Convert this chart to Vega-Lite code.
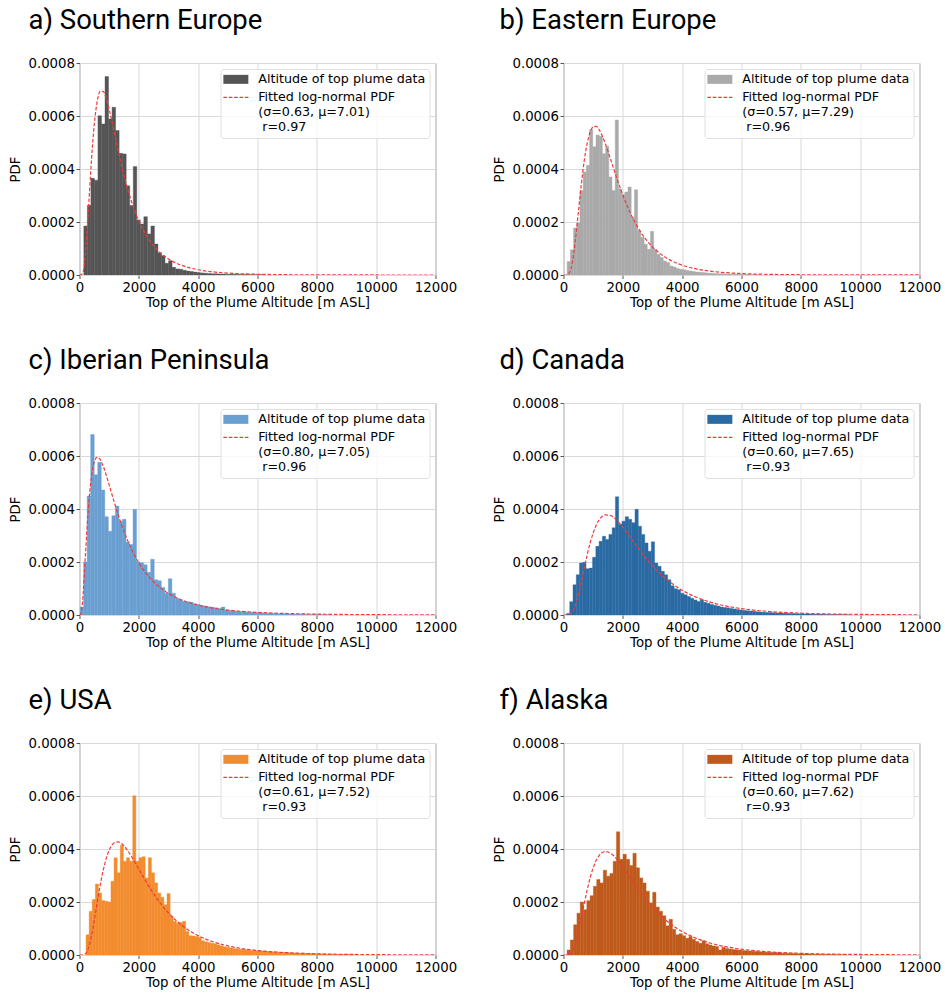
{
"$schema": "https://vega.github.io/schema/vega-lite/v6.json",
"background": "white",
"padding": {"left": 7.5, "top": 6, "right": 2, "bottom": 4},
"columns": 2,
"spacing": {"row": 36, "column": 34},
"resolve": {"scale": {"color": "independent", "x": "independent", "y": "independent"}, "legend": {"color": "independent"}},
"datasets": {
"hist": [
{"p":"a","a":146,"b":265,"v":0.000185},{"p":"a","a":265,"b":384,"v":0.000263},{"p":"a","a":384,"b":503,"v":0.000365},{"p":"a","a":503,"b":622,"v":0.000358},{"p":"a","a":622,"b":741,"v":0.000601},{"p":"a","a":741,"b":860,"v":0.00057},{"p":"a","a":860,"b":979,"v":0.000749},{"p":"a","a":979,"b":1098,"v":0.000589},{"p":"a","a":1098,"b":1217,"v":0.000633},{"p":"a","a":1217,"b":1336,"v":0.000545},{"p":"a","a":1336,"b":1455,"v":0.000459},{"p":"a","a":1455,"b":1574,"v":0.000457},{"p":"a","a":1574,"b":1693,"v":0.000337},{"p":"a","a":1693,"b":1812,"v":0.000262},{"p":"a","a":1812,"b":1931,"v":0.000409},{"p":"a","a":1931,"b":2050,"v":0.000208},{"p":"a","a":2050,"b":2169,"v":0.000192},{"p":"a","a":2169,"b":2288,"v":0.00022},{"p":"a","a":2288,"b":2407,"v":0.000155},{"p":"a","a":2407,"b":2526,"v":0.000185},{"p":"a","a":2526,"b":2645,"v":0.000117},{"p":"a","a":2645,"b":2764,"v":0.000084},{"p":"a","a":2764,"b":2883,"v":0.000073},{"p":"a","a":2883,"b":3002,"v":0.000044},{"p":"a","a":3002,"b":3121,"v":0.000054},{"p":"a","a":3121,"b":3240,"v":0.000029},{"p":"a","a":3240,"b":3359,"v":0.000023},{"p":"a","a":3359,"b":3478,"v":0.000022},{"p":"a","a":3478,"b":3597,"v":0.000018},{"p":"a","a":3597,"b":3716,"v":0.000015},{"p":"a","a":3716,"b":3835,"v":0.000013},{"p":"a","a":3835,"b":3954,"v":0.000011},{"p":"a","a":3954,"b":4073,"v":0.000009},{"p":"a","a":4073,"b":4192,"v":0.000008},{"p":"a","a":4192,"b":4311,"v":0.000007},{"p":"a","a":4311,"b":4430,"v":0.000006},{"p":"a","a":4430,"b":4549,"v":0.000005},{"p":"a","a":4549,"b":4668,"v":0.0000045},{"p":"a","a":4668,"b":4787,"v":0.000004},{"p":"a","a":4787,"b":4906,"v":0.0000035},{"p":"a","a":4906,"b":5025,"v":0.000003},{"p":"a","a":5025,"b":5144,"v":0.0000028},{"p":"a","a":5144,"b":5263,"v":0.0000025},{"p":"a","a":5263,"b":5382,"v":0.0000022},{"p":"a","a":5382,"b":5501,"v":0.000002},{"p":"a","a":5501,"b":5620,"v":0.0000018},{"p":"a","a":5620,"b":5739,"v":0.0000016},{"p":"a","a":5739,"b":5858,"v":0.0000014},{"p":"a","a":5858,"b":5977,"v":0.0000012},{"p":"a","a":5977,"b":6096,"v":0.0000011},{"p":"a","a":6096,"b":6215,"v":0.000001},
{"p":"b","a":123,"b":231,"v":0.000051},{"p":"b","a":231,"b":339,"v":0.000095},{"p":"b","a":339,"b":447,"v":0.000177},{"p":"b","a":447,"b":555,"v":0.000196},{"p":"b","a":555,"b":663,"v":0.000319},{"p":"b","a":663,"b":771,"v":0.000389},{"p":"b","a":771,"b":879,"v":0.000414},{"p":"b","a":879,"b":987,"v":0.000549},{"p":"b","a":987,"b":1095,"v":0.000484},{"p":"b","a":1095,"b":1203,"v":0.000528},{"p":"b","a":1203,"b":1311,"v":0.000524},{"p":"b","a":1311,"b":1419,"v":0.000458},{"p":"b","a":1419,"b":1527,"v":0.000486},{"p":"b","a":1527,"b":1635,"v":0.00037},{"p":"b","a":1635,"b":1743,"v":0.000319},{"p":"b","a":1743,"b":1851,"v":0.000585},{"p":"b","a":1851,"b":1959,"v":0.000325},{"p":"b","a":1959,"b":2067,"v":0.000304},{"p":"b","a":2067,"b":2175,"v":0.000313},{"p":"b","a":2175,"b":2283,"v":0.000332},{"p":"b","a":2283,"b":2391,"v":0.000218},{"p":"b","a":2391,"b":2499,"v":0.000322},{"p":"b","a":2499,"b":2607,"v":0.000167},{"p":"b","a":2607,"b":2715,"v":0.000142},{"p":"b","a":2715,"b":2823,"v":0.000116},{"p":"b","a":2823,"b":2931,"v":0.000097},{"p":"b","a":2931,"b":3039,"v":0.000165},{"p":"b","a":3039,"b":3147,"v":0.000097},{"p":"b","a":3147,"b":3255,"v":0.000078},{"p":"b","a":3255,"b":3363,"v":0.000066},{"p":"b","a":3363,"b":3471,"v":0.000053},{"p":"b","a":3471,"b":3579,"v":0.000047},{"p":"b","a":3579,"b":3687,"v":0.000034},{"p":"b","a":3687,"b":3795,"v":0.00003},{"p":"b","a":3795,"b":3903,"v":0.000025},{"p":"b","a":3903,"b":4011,"v":0.000022},{"p":"b","a":4011,"b":4119,"v":0.00002},{"p":"b","a":4119,"b":4227,"v":0.000017},{"p":"b","a":4227,"b":4335,"v":0.000015},{"p":"b","a":4335,"b":4443,"v":0.000013},{"p":"b","a":4443,"b":4551,"v":0.000011},{"p":"b","a":4551,"b":4659,"v":0.00001},{"p":"b","a":4659,"b":4767,"v":0.000009},{"p":"b","a":4767,"b":4875,"v":0.000008},{"p":"b","a":4875,"b":4983,"v":0.000007},{"p":"b","a":4983,"b":5091,"v":0.000006},{"p":"b","a":5091,"b":5199,"v":0.0000055},{"p":"b","a":5199,"b":5307,"v":0.000005},{"p":"b","a":5307,"b":5415,"v":0.0000045},{"p":"b","a":5415,"b":5523,"v":0.000004},{"p":"b","a":5523,"b":5631,"v":0.0000035},{"p":"b","a":5631,"b":5739,"v":0.000003},{"p":"b","a":5739,"b":5847,"v":0.0000027},{"p":"b","a":5847,"b":5955,"v":0.0000024},{"p":"b","a":5955,"b":6063,"v":0.0000021},{"p":"b","a":6063,"b":6171,"v":0.0000018},{"p":"b","a":6171,"b":6279,"v":0.0000015},{"p":"b","a":6279,"b":6387,"v":0.0000013},{"p":"b","a":6387,"b":6495,"v":0.0000011},{"p":"b","a":6495,"b":6603,"v":0.000001},
{"p":"c","a":20,"b":139,"v":0.00003},{"p":"c","a":139,"b":258,"v":0.0002},{"p":"c","a":258,"b":377,"v":0.000449},{"p":"c","a":377,"b":496,"v":0.000681},{"p":"c","a":496,"b":615,"v":0.000529},{"p":"c","a":615,"b":734,"v":0.000576},{"p":"c","a":734,"b":853,"v":0.000472},{"p":"c","a":853,"b":972,"v":0.000371},{"p":"c","a":972,"b":1091,"v":0.000316},{"p":"c","a":1091,"b":1210,"v":0.000375},{"p":"c","a":1210,"b":1329,"v":0.000411},{"p":"c","a":1329,"b":1448,"v":0.000354},{"p":"c","a":1448,"b":1567,"v":0.000361},{"p":"c","a":1567,"b":1686,"v":0.000275},{"p":"c","a":1686,"b":1805,"v":0.000266},{"p":"c","a":1805,"b":1924,"v":0.000399},{"p":"c","a":1924,"b":2043,"v":0.0002},{"p":"c","a":2043,"b":2162,"v":0.000197},{"p":"c","a":2162,"b":2281,"v":0.00019},{"p":"c","a":2281,"b":2400,"v":0.000161},{"p":"c","a":2400,"b":2519,"v":0.00021},{"p":"c","a":2519,"b":2638,"v":0.000133},{"p":"c","a":2638,"b":2757,"v":0.000129},{"p":"c","a":2757,"b":2876,"v":0.000104},{"p":"c","a":2876,"b":2995,"v":0.000082},{"p":"c","a":2995,"b":3114,"v":0.000137},{"p":"c","a":3114,"b":3233,"v":0.000082},{"p":"c","a":3233,"b":3352,"v":0.000063},{"p":"c","a":3352,"b":3471,"v":0.000057},{"p":"c","a":3471,"b":3590,"v":0.000052},{"p":"c","a":3590,"b":3709,"v":0.00005},{"p":"c","a":3709,"b":3828,"v":0.000048},{"p":"c","a":3828,"b":3947,"v":0.000042},{"p":"c","a":3947,"b":4066,"v":0.00004},{"p":"c","a":4066,"b":4185,"v":0.000036},{"p":"c","a":4185,"b":4304,"v":0.000034},{"p":"c","a":4304,"b":4423,"v":0.000031},{"p":"c","a":4423,"b":4542,"v":0.000029},{"p":"c","a":4542,"b":4661,"v":0.000027},{"p":"c","a":4661,"b":4780,"v":0.000025},{"p":"c","a":4780,"b":4899,"v":0.00003},{"p":"c","a":4899,"b":5018,"v":0.000019},{"p":"c","a":5018,"b":5137,"v":0.000017},{"p":"c","a":5137,"b":5256,"v":0.000015},{"p":"c","a":5256,"b":5375,"v":0.000014},{"p":"c","a":5375,"b":5494,"v":0.000013},{"p":"c","a":5494,"b":5613,"v":0.000012},{"p":"c","a":5613,"b":5732,"v":0.000011},{"p":"c","a":5732,"b":5851,"v":0.00001},{"p":"c","a":5851,"b":5970,"v":0.000009},{"p":"c","a":5970,"b":6089,"v":0.0000085},{"p":"c","a":6089,"b":6208,"v":0.000008},{"p":"c","a":6208,"b":6327,"v":0.000007},{"p":"c","a":6327,"b":6446,"v":0.0000065},{"p":"c","a":6446,"b":6565,"v":0.000006},{"p":"c","a":6565,"b":6684,"v":0.0000055},{"p":"c","a":6684,"b":6803,"v":0.000005},{"p":"c","a":6803,"b":6922,"v":0.0000045},{"p":"c","a":6922,"b":7041,"v":0.000004},{"p":"c","a":7041,"b":7160,"v":0.0000037},{"p":"c","a":7160,"b":7279,"v":0.0000034},{"p":"c","a":7279,"b":7398,"v":0.0000031},{"p":"c","a":7398,"b":7517,"v":0.0000028},{"p":"c","a":7517,"b":7636,"v":0.0000025},{"p":"c","a":7636,"b":7755,"v":0.0000022},{"p":"c","a":7755,"b":7874,"v":0.000002},{"p":"c","a":7874,"b":7993,"v":0.0000018},{"p":"c","a":7993,"b":8112,"v":0.0000016},{"p":"c","a":8112,"b":8231,"v":0.0000014},{"p":"c","a":8231,"b":8350,"v":0.0000012},{"p":"c","a":8350,"b":8469,"v":0.000001},
{"p":"d","a":100,"b":210,"v":0.000006},{"p":"d","a":210,"b":320,"v":0.00005},{"p":"d","a":320,"b":430,"v":0.000114},{"p":"d","a":430,"b":540,"v":0.000152},{"p":"d","a":540,"b":650,"v":0.000196},{"p":"d","a":650,"b":760,"v":0.000199},{"p":"d","a":760,"b":870,"v":0.000175},{"p":"d","a":870,"b":980,"v":0.000177},{"p":"d","a":980,"b":1090,"v":0.000218},{"p":"d","a":1090,"b":1200,"v":0.000259},{"p":"d","a":1200,"b":1310,"v":0.000278},{"p":"d","a":1310,"b":1420,"v":0.000297},{"p":"d","a":1420,"b":1530,"v":0.000285},{"p":"d","a":1530,"b":1640,"v":0.000304},{"p":"d","a":1640,"b":1750,"v":0.000329},{"p":"d","a":1750,"b":1860,"v":0.000446},{"p":"d","a":1860,"b":1970,"v":0.000342},{"p":"d","a":1970,"b":2080,"v":0.000354},{"p":"d","a":2080,"b":2190,"v":0.000371},{"p":"d","a":2190,"b":2300,"v":0.000361},{"p":"d","a":2300,"b":2410,"v":0.000348},{"p":"d","a":2410,"b":2520,"v":0.000399},{"p":"d","a":2520,"b":2630,"v":0.000335},{"p":"d","a":2630,"b":2740,"v":0.000304},{"p":"d","a":2740,"b":2850,"v":0.000272},{"p":"d","a":2850,"b":2960,"v":0.000241},{"p":"d","a":2960,"b":3070,"v":0.000276},{"p":"d","a":3070,"b":3180,"v":0.000196},{"p":"d","a":3180,"b":3290,"v":0.000184},{"p":"d","a":3290,"b":3400,"v":0.000165},{"p":"d","a":3400,"b":3510,"v":0.000152},{"p":"d","a":3510,"b":3620,"v":0.000133},{"p":"d","a":3620,"b":3730,"v":0.00011},{"p":"d","a":3730,"b":3840,"v":0.000099},{"p":"d","a":3840,"b":3950,"v":0.000095},{"p":"d","a":3950,"b":4060,"v":0.000082},{"p":"d","a":4060,"b":4170,"v":0.000076},{"p":"d","a":4170,"b":4280,"v":0.00007},{"p":"d","a":4280,"b":4390,"v":0.000063},{"p":"d","a":4390,"b":4500,"v":0.000057},{"p":"d","a":4500,"b":4610,"v":0.000051},{"p":"d","a":4610,"b":4720,"v":0.000058},{"p":"d","a":4720,"b":4830,"v":0.000048},{"p":"d","a":4830,"b":4940,"v":0.000044},{"p":"d","a":4940,"b":5050,"v":0.00004},{"p":"d","a":5050,"b":5160,"v":0.000037},{"p":"d","a":5160,"b":5270,"v":0.000034},{"p":"d","a":5270,"b":5380,"v":0.00003},{"p":"d","a":5380,"b":5490,"v":0.000028},{"p":"d","a":5490,"b":5600,"v":0.000027},{"p":"d","a":5600,"b":5710,"v":0.000025},{"p":"d","a":5710,"b":5820,"v":0.000023},{"p":"d","a":5820,"b":5930,"v":0.000021},{"p":"d","a":5930,"b":6040,"v":0.000019},{"p":"d","a":6040,"b":6150,"v":0.000017},{"p":"d","a":6150,"b":6260,"v":0.000016},{"p":"d","a":6260,"b":6370,"v":0.000015},{"p":"d","a":6370,"b":6480,"v":0.000014},{"p":"d","a":6480,"b":6590,"v":0.000012},{"p":"d","a":6590,"b":6700,"v":0.000011},{"p":"d","a":6700,"b":6810,"v":0.00001},{"p":"d","a":6810,"b":6920,"v":0.0000095},{"p":"d","a":6920,"b":7030,"v":0.000009},{"p":"d","a":7030,"b":7140,"v":0.0000085},{"p":"d","a":7140,"b":7250,"v":0.000008},{"p":"d","a":7250,"b":7360,"v":0.0000075},{"p":"d","a":7360,"b":7470,"v":0.000007},{"p":"d","a":7470,"b":7580,"v":0.0000065},{"p":"d","a":7580,"b":7690,"v":0.000006},{"p":"d","a":7690,"b":7800,"v":0.0000055},{"p":"d","a":7800,"b":7910,"v":0.000005},{"p":"d","a":7910,"b":8020,"v":0.0000046},{"p":"d","a":8020,"b":8130,"v":0.0000042},{"p":"d","a":8130,"b":8240,"v":0.0000038},{"p":"d","a":8240,"b":8350,"v":0.0000035},{"p":"d","a":8350,"b":8460,"v":0.0000032},{"p":"d","a":8460,"b":8570,"v":0.000003},{"p":"d","a":8570,"b":8680,"v":0.0000027},{"p":"d","a":8680,"b":8790,"v":0.0000025},{"p":"d","a":8790,"b":8900,"v":0.0000022},{"p":"d","a":8900,"b":9010,"v":0.000002},{"p":"d","a":9010,"b":9120,"v":0.0000018},{"p":"d","a":9120,"b":9230,"v":0.0000016},{"p":"d","a":9230,"b":9340,"v":0.0000014},{"p":"d","a":9340,"b":9450,"v":0.0000012},{"p":"d","a":9450,"b":9560,"v":0.0000011},{"p":"d","a":9560,"b":9670,"v":0.000001},
{"p":"e","a":220,"b":325,"v":0.000076},{"p":"e","a":325,"b":430,"v":0.000165},{"p":"e","a":430,"b":535,"v":0.000209},{"p":"e","a":535,"b":640,"v":0.000268},{"p":"e","a":640,"b":745,"v":0.000234},{"p":"e","a":745,"b":850,"v":0.000206},{"p":"e","a":850,"b":955,"v":0.000203},{"p":"e","a":955,"b":1060,"v":0.0002},{"p":"e","a":1060,"b":1165,"v":0.000278},{"p":"e","a":1165,"b":1270,"v":0.000367},{"p":"e","a":1270,"b":1375,"v":0.00031},{"p":"e","a":1375,"b":1480,"v":0.000414},{"p":"e","a":1480,"b":1585,"v":0.000354},{"p":"e","a":1585,"b":1690,"v":0.000367},{"p":"e","a":1690,"b":1795,"v":0.000354},{"p":"e","a":1795,"b":1900,"v":0.000601},{"p":"e","a":1900,"b":2005,"v":0.000354},{"p":"e","a":2005,"b":2110,"v":0.000367},{"p":"e","a":2110,"b":2215,"v":0.000371},{"p":"e","a":2215,"b":2320,"v":0.000291},{"p":"e","a":2320,"b":2425,"v":0.000367},{"p":"e","a":2425,"b":2530,"v":0.00031},{"p":"e","a":2530,"b":2635,"v":0.000272},{"p":"e","a":2635,"b":2740,"v":0.000234},{"p":"e","a":2740,"b":2845,"v":0.000218},{"p":"e","a":2845,"b":2950,"v":0.00019},{"p":"e","a":2950,"b":3055,"v":0.000232},{"p":"e","a":3055,"b":3160,"v":0.000146},{"p":"e","a":3160,"b":3265,"v":0.000127},{"p":"e","a":3265,"b":3370,"v":0.00012},{"p":"e","a":3370,"b":3475,"v":0.000123},{"p":"e","a":3475,"b":3580,"v":0.000127},{"p":"e","a":3580,"b":3685,"v":0.000089},{"p":"e","a":3685,"b":3790,"v":0.000073},{"p":"e","a":3790,"b":3895,"v":0.000072},{"p":"e","a":3895,"b":4000,"v":0.00007},{"p":"e","a":4000,"b":4105,"v":0.000067},{"p":"e","a":4105,"b":4210,"v":0.000054},{"p":"e","a":4210,"b":4315,"v":0.00005},{"p":"e","a":4315,"b":4420,"v":0.000047},{"p":"e","a":4420,"b":4525,"v":0.000044},{"p":"e","a":4525,"b":4630,"v":0.000042},{"p":"e","a":4630,"b":4735,"v":0.000038},{"p":"e","a":4735,"b":4840,"v":0.000034},{"p":"e","a":4840,"b":4945,"v":0.000031},{"p":"e","a":4945,"b":5050,"v":0.000029},{"p":"e","a":5050,"b":5155,"v":0.000027},{"p":"e","a":5155,"b":5260,"v":0.000025},{"p":"e","a":5260,"b":5365,"v":0.000023},{"p":"e","a":5365,"b":5470,"v":0.000022},{"p":"e","a":5470,"b":5575,"v":0.000021},{"p":"e","a":5575,"b":5680,"v":0.00002},{"p":"e","a":5680,"b":5785,"v":0.000018},{"p":"e","a":5785,"b":5890,"v":0.000017},{"p":"e","a":5890,"b":5995,"v":0.000016},{"p":"e","a":5995,"b":6100,"v":0.000016},{"p":"e","a":6100,"b":6205,"v":0.000015},{"p":"e","a":6205,"b":6310,"v":0.000014},{"p":"e","a":6310,"b":6415,"v":0.000013},{"p":"e","a":6415,"b":6520,"v":0.000012},{"p":"e","a":6520,"b":6625,"v":0.000011},{"p":"e","a":6625,"b":6730,"v":0.0000105},{"p":"e","a":6730,"b":6835,"v":0.00001},{"p":"e","a":6835,"b":6940,"v":0.0000095},{"p":"e","a":6940,"b":7045,"v":0.000009},{"p":"e","a":7045,"b":7150,"v":0.0000085},{"p":"e","a":7150,"b":7255,"v":0.000008},{"p":"e","a":7255,"b":7360,"v":0.0000075},{"p":"e","a":7360,"b":7465,"v":0.000007},{"p":"e","a":7465,"b":7570,"v":0.0000065},{"p":"e","a":7570,"b":7675,"v":0.000006},{"p":"e","a":7675,"b":7780,"v":0.0000055},{"p":"e","a":7780,"b":7885,"v":0.000005},{"p":"e","a":7885,"b":7990,"v":0.0000046},{"p":"e","a":7990,"b":8095,"v":0.0000042},{"p":"e","a":8095,"b":8200,"v":0.0000038},{"p":"e","a":8200,"b":8305,"v":0.0000035},{"p":"e","a":8305,"b":8410,"v":0.0000032},{"p":"e","a":8410,"b":8515,"v":0.0000029},{"p":"e","a":8515,"b":8620,"v":0.0000026},{"p":"e","a":8620,"b":8725,"v":0.0000023},{"p":"e","a":8725,"b":8830,"v":0.000002},{"p":"e","a":8830,"b":8935,"v":0.0000018},{"p":"e","a":8935,"b":9040,"v":0.0000016},{"p":"e","a":9040,"b":9145,"v":0.0000014},{"p":"e","a":9145,"b":9250,"v":0.0000012},{"p":"e","a":9250,"b":9355,"v":0.000001},
{"p":"f","a":120,"b":231,"v":0.000019},{"p":"f","a":231,"b":342,"v":0.000057},{"p":"f","a":342,"b":453,"v":0.000114},{"p":"f","a":453,"b":564,"v":0.000158},{"p":"f","a":564,"b":675,"v":0.0002},{"p":"f","a":675,"b":786,"v":0.000171},{"p":"f","a":786,"b":897,"v":0.000205},{"p":"f","a":897,"b":1008,"v":0.000224},{"p":"f","a":1008,"b":1119,"v":0.000259},{"p":"f","a":1119,"b":1230,"v":0.000285},{"p":"f","a":1230,"b":1341,"v":0.000272},{"p":"f","a":1341,"b":1452,"v":0.00032},{"p":"f","a":1452,"b":1563,"v":0.000297},{"p":"f","a":1563,"b":1674,"v":0.000308},{"p":"f","a":1674,"b":1785,"v":0.000354},{"p":"f","a":1785,"b":1896,"v":0.000465},{"p":"f","a":1896,"b":2007,"v":0.000361},{"p":"f","a":2007,"b":2118,"v":0.00038},{"p":"f","a":2118,"b":2229,"v":0.000361},{"p":"f","a":2229,"b":2340,"v":0.000338},{"p":"f","a":2340,"b":2451,"v":0.000384},{"p":"f","a":2451,"b":2562,"v":0.000329},{"p":"f","a":2562,"b":2673,"v":0.000291},{"p":"f","a":2673,"b":2784,"v":0.000272},{"p":"f","a":2784,"b":2895,"v":0.000241},{"p":"f","a":2895,"b":3006,"v":0.000196},{"p":"f","a":3006,"b":3117,"v":0.000237},{"p":"f","a":3117,"b":3228,"v":0.000181},{"p":"f","a":3228,"b":3339,"v":0.000165},{"p":"f","a":3339,"b":3450,"v":0.000148},{"p":"f","a":3450,"b":3561,"v":0.00011},{"p":"f","a":3561,"b":3672,"v":0.000135},{"p":"f","a":3672,"b":3783,"v":0.000097},{"p":"f","a":3783,"b":3894,"v":0.000076},{"p":"f","a":3894,"b":4005,"v":0.00008},{"p":"f","a":4005,"b":4116,"v":0.000073},{"p":"f","a":4116,"b":4227,"v":0.000063},{"p":"f","a":4227,"b":4338,"v":0.00007},{"p":"f","a":4338,"b":4449,"v":0.000059},{"p":"f","a":4449,"b":4560,"v":0.000051},{"p":"f","a":4560,"b":4671,"v":0.000044},{"p":"f","a":4671,"b":4782,"v":0.000054},{"p":"f","a":4782,"b":4893,"v":0.000042},{"p":"f","a":4893,"b":5004,"v":0.000038},{"p":"f","a":5004,"b":5115,"v":0.000034},{"p":"f","a":5115,"b":5226,"v":0.000032},{"p":"f","a":5226,"b":5337,"v":0.000019},{"p":"f","a":5337,"b":5448,"v":0.000029},{"p":"f","a":5448,"b":5559,"v":0.000025},{"p":"f","a":5559,"b":5670,"v":0.000023},{"p":"f","a":5670,"b":5781,"v":0.000021},{"p":"f","a":5781,"b":5892,"v":0.00002},{"p":"f","a":5892,"b":6003,"v":0.000019},{"p":"f","a":6003,"b":6114,"v":0.000017},{"p":"f","a":6114,"b":6225,"v":0.000016},{"p":"f","a":6225,"b":6336,"v":0.000015},{"p":"f","a":6336,"b":6447,"v":0.000014},{"p":"f","a":6447,"b":6558,"v":0.000013},{"p":"f","a":6558,"b":6669,"v":0.000012},{"p":"f","a":6669,"b":6780,"v":0.000011},{"p":"f","a":6780,"b":6891,"v":0.00001},{"p":"f","a":6891,"b":7002,"v":0.00001},{"p":"f","a":7002,"b":7113,"v":0.000009},{"p":"f","a":7113,"b":7224,"v":0.000009},{"p":"f","a":7224,"b":7335,"v":0.000008},{"p":"f","a":7335,"b":7446,"v":0.000007},{"p":"f","a":7446,"b":7557,"v":0.000007},{"p":"f","a":7557,"b":7668,"v":0.000006},{"p":"f","a":7668,"b":7779,"v":0.000006},{"p":"f","a":7779,"b":7890,"v":0.000005},{"p":"f","a":7890,"b":8001,"v":0.000005},{"p":"f","a":8001,"b":8112,"v":0.0000045},{"p":"f","a":8112,"b":8223,"v":0.000004},{"p":"f","a":8223,"b":8334,"v":0.0000036},{"p":"f","a":8334,"b":8445,"v":0.0000032},{"p":"f","a":8445,"b":8556,"v":0.0000029},{"p":"f","a":8556,"b":8667,"v":0.0000026},{"p":"f","a":8667,"b":8778,"v":0.0000023},{"p":"f","a":8778,"b":8889,"v":0.000002},{"p":"f","a":8889,"b":9000,"v":0.0000018},{"p":"f","a":9000,"b":9111,"v":0.0000016},{"p":"f","a":9111,"b":9222,"v":0.0000014},{"p":"f","a":9222,"b":9333,"v":0.0000012},{"p":"f","a":9333,"b":9444,"v":0.0000011},{"p":"f","a":9444,"b":9555,"v":0.000001}
],
"fit": [
{"p":"a","x":0,"y":0},{"p":"a","x":100,"y":0.0000043},{"p":"a","x":200,"y":0.000079},{"p":"a","x":300,"y":0.000246},{"p":"a","x":400,"y":0.0004285},{"p":"a","x":500,"y":0.0005708},{"p":"a","x":600,"y":0.0006573},{"p":"a","x":700,"y":0.0006938},{"p":"a","x":800,"y":0.0006927},{"p":"a","x":900,"y":0.0006664},{"p":"a","x":1000,"y":0.000625},{"p":"a","x":1200,"y":0.0005235},{"p":"a","x":1400,"y":0.0004221},{"p":"a","x":1600,"y":0.0003338},{"p":"a","x":1800,"y":0.0002614},{"p":"a","x":2000,"y":0.0002039},{"p":"a","x":2250,"y":0.0001495},{"p":"a","x":2500,"y":0.0001099},{"p":"a","x":2750,"y":0.0000812},{"p":"a","x":3000,"y":0.0000604},{"p":"a","x":3500,"y":0.0000342},{"p":"a","x":4000,"y":0.0000198},{"p":"a","x":4500,"y":0.0000118},{"p":"a","x":5000,"y":0.0000072},{"p":"a","x":6000,"y":0.0000029},{"p":"a","x":7000,"y":0.0000012},{"p":"a","x":8000,"y":0.0000006},{"p":"a","x":10000,"y":0.0000001},{"p":"a","x":12000,"y":0},
{"p":"b","x":0,"y":0},{"p":"b","x":100,"y":0},{"p":"b","x":200,"y":0.0000078},{"p":"b","x":300,"y":0.0000486},{"p":"b","x":400,"y":0.0001306},{"p":"b","x":500,"y":0.0002361},{"p":"b","x":600,"y":0.0003418},{"p":"b","x":700,"y":0.0004316},{"p":"b","x":800,"y":0.0004977},{"p":"b","x":900,"y":0.0005394},{"p":"b","x":1000,"y":0.000559},{"p":"b","x":1100,"y":0.0005606},{"p":"b","x":1200,"y":0.0005485},{"p":"b","x":1400,"y":0.0004983},{"p":"b","x":1600,"y":0.0004323},{"p":"b","x":1800,"y":0.0003644},{"p":"b","x":2000,"y":0.0003016},{"p":"b","x":2250,"y":0.0002344},{"p":"b","x":2500,"y":0.0001805},{"p":"b","x":2750,"y":0.0001383},{"p":"b","x":3000,"y":0.0001059},{"p":"b","x":3500,"y":0.0000623},{"p":"b","x":4000,"y":0.0000371},{"p":"b","x":4500,"y":0.0000224},{"p":"b","x":5000,"y":0.0000138},{"p":"b","x":6000,"y":0.0000055},{"p":"b","x":7000,"y":0.0000023},{"p":"b","x":8000,"y":0.000001},{"p":"b","x":10000,"y":0.0000003},{"p":"b","x":12000,"y":0.0000001},
{"p":"c","x":0,"y":0},{"p":"c","x":50,"y":0.0000045},{"p":"c","x":100,"y":0.0000468},{"p":"c","x":200,"y":0.0002268},{"p":"c","x":300,"y":0.0004034},{"p":"c","x":400,"y":0.0005196},{"p":"c","x":500,"y":0.0005782},{"p":"c","x":600,"y":0.0005956},{"p":"c","x":700,"y":0.0005865},{"p":"c","x":800,"y":0.0005616},{"p":"c","x":900,"y":0.0005282},{"p":"c","x":1000,"y":0.0004909},{"p":"c","x":1200,"y":0.000415},{"p":"c","x":1400,"y":0.0003459},{"p":"c","x":1600,"y":0.0002866},{"p":"c","x":1800,"y":0.0002373},{"p":"c","x":2000,"y":0.0001967},{"p":"c","x":2250,"y":0.0001563},{"p":"c","x":2500,"y":0.0001249},{"p":"c","x":2750,"y":0.0001005},{"p":"c","x":3000,"y":0.0000814},{"p":"c","x":3500,"y":0.0000544},{"p":"c","x":4000,"y":0.0000372},{"p":"c","x":4500,"y":0.000026},{"p":"c","x":5000,"y":0.0000186},{"p":"c","x":6000,"y":0.0000099},{"p":"c","x":7000,"y":0.0000056},{"p":"c","x":8000,"y":0.0000033},{"p":"c","x":10000,"y":0.0000013},{"p":"c","x":12000,"y":0.0000006},
{"p":"d","x":0,"y":0},{"p":"d","x":100,"y":0},{"p":"d","x":200,"y":0.0000015},{"p":"d","x":300,"y":0.0000115},{"p":"d","x":400,"y":0.0000365},{"p":"d","x":500,"y":0.000076},{"p":"d","x":600,"y":0.0001251},{"p":"d","x":700,"y":0.0001775},{"p":"d","x":800,"y":0.0002278},{"p":"d","x":900,"y":0.0002724},{"p":"d","x":1000,"y":0.0003094},{"p":"d","x":1200,"y":0.0003585},{"p":"d","x":1300,"y":0.0003714},{"p":"d","x":1400,"y":0.0003778},{"p":"d","x":1600,"y":0.0003749},{"p":"d","x":1800,"y":0.0003573},{"p":"d","x":2000,"y":0.0003313},{"p":"d","x":2250,"y":0.0002936},{"p":"d","x":2500,"y":0.000255},{"p":"d","x":2750,"y":0.0002186},{"p":"d","x":3000,"y":0.0001858},{"p":"d","x":3500,"y":0.0001323},{"p":"d","x":4000,"y":0.0000934},{"p":"d","x":4500,"y":0.000066},{"p":"d","x":5000,"y":0.0000468},{"p":"d","x":6000,"y":0.000024},{"p":"d","x":7000,"y":0.0000127},{"p":"d","x":8000,"y":0.0000069},{"p":"d","x":10000,"y":0.0000023},{"p":"d","x":12000,"y":0.0000008},
{"p":"e","x":0,"y":0},{"p":"e","x":100,"y":0},{"p":"e","x":200,"y":0.0000043},{"p":"e","x":300,"y":0.0000259},{"p":"e","x":400,"y":0.0000708},{"p":"e","x":500,"y":0.0001325},{"p":"e","x":600,"y":0.0002001},{"p":"e","x":700,"y":0.0002646},{"p":"e","x":800,"y":0.00032},{"p":"e","x":900,"y":0.0003638},{"p":"e","x":1000,"y":0.0003953},{"p":"e","x":1100,"y":0.0004152},{"p":"e","x":1200,"y":0.0004252},{"p":"e","x":1300,"y":0.0004268},{"p":"e","x":1400,"y":0.0004218},{"p":"e","x":1600,"y":0.0003978},{"p":"e","x":1800,"y":0.000363},{"p":"e","x":2000,"y":0.0003241},{"p":"e","x":2250,"y":0.0002757},{"p":"e","x":2500,"y":0.0002311},{"p":"e","x":2750,"y":0.0001919},{"p":"e","x":3000,"y":0.0001586},{"p":"e","x":3500,"y":0.0001077},{"p":"e","x":4000,"y":0.0000731},{"p":"e","x":4500,"y":0.0000499},{"p":"e","x":5000,"y":0.0000344},{"p":"e","x":6000,"y":0.0000168},{"p":"e","x":7000,"y":0.0000086},{"p":"e","x":8000,"y":0.0000045},{"p":"e","x":10000,"y":0.0000014},{"p":"e","x":12000,"y":0.0000005},
{"p":"f","x":0,"y":0},{"p":"f","x":100,"y":0},{"p":"f","x":200,"y":0.0000019},{"p":"f","x":300,"y":0.0000135},{"p":"f","x":400,"y":0.0000418},{"p":"f","x":500,"y":0.0000856},{"p":"f","x":600,"y":0.0001387},{"p":"f","x":700,"y":0.0001943},{"p":"f","x":800,"y":0.0002465},{"p":"f","x":900,"y":0.0002919},{"p":"f","x":1000,"y":0.0003287},{"p":"f","x":1200,"y":0.0003751},{"p":"f","x":1300,"y":0.0003861},{"p":"f","x":1400,"y":0.0003903},{"p":"f","x":1600,"y":0.000383},{"p":"f","x":1800,"y":0.0003615},{"p":"f","x":2000,"y":0.0003323},{"p":"f","x":2250,"y":0.0002915},{"p":"f","x":2500,"y":0.000251},{"p":"f","x":2750,"y":0.0002135},{"p":"f","x":3000,"y":0.0001801},{"p":"f","x":3500,"y":0.0001266},{"p":"f","x":4000,"y":0.0000885},{"p":"f","x":4500,"y":0.0000619},{"p":"f","x":5000,"y":0.0000435},{"p":"f","x":6000,"y":0.000022},{"p":"f","x":7000,"y":0.0000115},{"p":"f","x":8000,"y":0.0000062},{"p":"f","x":10000,"y":0.000002},{"p":"f","x":12000,"y":0.0000007}
]
},
"concat": [
{"width": 356, "height": 212, "title": {"text": "a) Southern Europe", "dx": -51},
 "layer": [
  {"data": {"name": "hist"}, "transform": [{"filter": "datum.p === 'a'"}], "mark": {"type": "bar", "clip": true, "color": "#555555", "stroke": "#555555", "strokeWidth": 0.4},
   "encoding": {
    "x": {"field": "a", "type": "quantitative", "title": "Top of the Plume Altitude [m ASL]", "scale": {"domain": [0, 12000], "nice": false, "zero": false, "padding": 0}, "axis": {"format": "d"}},
    "x2": {"field": "b"},
    "y": {"field": "v", "type": "quantitative", "title": "PDF", "scale": {"domain": [0, 0.0008], "nice": false, "padding": 0}, "axis": {"format": ".4f"}},
    "y2": {"datum": 0}
   }},
  {"data": {"name": "fit"}, "transform": [{"filter": "datum.p === 'a'"}], "mark": {"type": "line", "strokeWidth": 1.2, "strokeDash": [3.6, 1.8], "interpolate": "monotone", "clip": true},
   "encoding": {
    "x": {"field": "x", "type": "quantitative", "title": "Top of the Plume Altitude [m ASL]"},
    "y": {"field": "y", "type": "quantitative", "title": "PDF"},
    "color": {"datum": "Fitted log-normal PDF|(σ=0.63, μ=7.01)|\u200b\u00a0r=0.97", "type": "nominal",
      "scale": {"domain": ["Altitude of top plume data", "Fitted log-normal PDF|(σ=0.63, μ=7.01)|\u200b\u00a0r=0.97"], "range": ["#555555", "#f03a3a"]},
      "legend": {"title": null, "labelExpr": "split(datum.label, '|')", "symbolFillColor": "#555555", "symbolStrokeColor": "#f03a3a",
        "encode": {"symbols": {"update": {
          "shape": {"signal": "datum.value === 'Altitude of top plume data' ? 'M-1,-0.6H2.333V0.6H-1Z' : 'M-1,0H2.333'"},
          "fill": {"signal": "datum.value === 'Altitude of top plume data' ? '#555555' : 'transparent'"},
          "stroke": {"signal": "datum.value === 'Altitude of top plume data' ? '#555555' : '#f03a3a'"},
          "strokeWidth": {"signal": "datum.value === 'Altitude of top plume data' ? 0 : 1.2"}}}}}}
   }}
 ]},
{"width": 356, "height": 212, "title": {"text": "b) Eastern Europe", "dx": -64},
 "layer": [
  {"data": {"name": "hist"}, "transform": [{"filter": "datum.p === 'b'"}], "mark": {"type": "bar", "clip": true, "color": "#aaaaaa", "stroke": "#aaaaaa", "strokeWidth": 0.4},
   "encoding": {
    "x": {"field": "a", "type": "quantitative", "title": "Top of the Plume Altitude [m ASL]", "scale": {"domain": [0, 12000], "nice": false, "zero": false, "padding": 0}, "axis": {"format": "d"}},
    "x2": {"field": "b"},
    "y": {"field": "v", "type": "quantitative", "title": "PDF", "scale": {"domain": [0, 0.0008], "nice": false, "padding": 0}, "axis": {"format": ".4f"}},
    "y2": {"datum": 0}
   }},
  {"data": {"name": "fit"}, "transform": [{"filter": "datum.p === 'b'"}], "mark": {"type": "line", "strokeWidth": 1.2, "strokeDash": [3.6, 1.8], "interpolate": "monotone", "clip": true},
   "encoding": {
    "x": {"field": "x", "type": "quantitative", "title": "Top of the Plume Altitude [m ASL]"},
    "y": {"field": "y", "type": "quantitative", "title": "PDF"},
    "color": {"datum": "Fitted log-normal PDF|(σ=0.57, μ=7.29)|\u200b\u00a0r=0.96", "type": "nominal",
      "scale": {"domain": ["Altitude of top plume data", "Fitted log-normal PDF|(σ=0.57, μ=7.29)|\u200b\u00a0r=0.96"], "range": ["#aaaaaa", "#f03a3a"]},
      "legend": {"title": null, "labelExpr": "split(datum.label, '|')", "symbolFillColor": "#aaaaaa", "symbolStrokeColor": "#f03a3a",
        "encode": {"symbols": {"update": {
          "shape": {"signal": "datum.value === 'Altitude of top plume data' ? 'M-1,-0.6H2.333V0.6H-1Z' : 'M-1,0H2.333'"},
          "fill": {"signal": "datum.value === 'Altitude of top plume data' ? '#aaaaaa' : 'transparent'"},
          "stroke": {"signal": "datum.value === 'Altitude of top plume data' ? '#aaaaaa' : '#f03a3a'"},
          "strokeWidth": {"signal": "datum.value === 'Altitude of top plume data' ? 0 : 1.2"}}}}}}
   }}
 ]},
{"width": 356, "height": 212, "title": {"text": "c) Iberian Peninsula", "dx": -51},
 "layer": [
  {"data": {"name": "hist"}, "transform": [{"filter": "datum.p === 'c'"}], "mark": {"type": "bar", "clip": true, "color": "#6a9fd1", "stroke": "#6a9fd1", "strokeWidth": 0.4},
   "encoding": {
    "x": {"field": "a", "type": "quantitative", "title": "Top of the Plume Altitude [m ASL]", "scale": {"domain": [0, 12000], "nice": false, "zero": false, "padding": 0}, "axis": {"format": "d"}},
    "x2": {"field": "b"},
    "y": {"field": "v", "type": "quantitative", "title": "PDF", "scale": {"domain": [0, 0.0008], "nice": false, "padding": 0}, "axis": {"format": ".4f"}},
    "y2": {"datum": 0}
   }},
  {"data": {"name": "fit"}, "transform": [{"filter": "datum.p === 'c'"}], "mark": {"type": "line", "strokeWidth": 1.2, "strokeDash": [3.6, 1.8], "interpolate": "monotone", "clip": true},
   "encoding": {
    "x": {"field": "x", "type": "quantitative", "title": "Top of the Plume Altitude [m ASL]"},
    "y": {"field": "y", "type": "quantitative", "title": "PDF"},
    "color": {"datum": "Fitted log-normal PDF|(σ=0.80, μ=7.05)|\u200b\u00a0r=0.96", "type": "nominal",
      "scale": {"domain": ["Altitude of top plume data", "Fitted log-normal PDF|(σ=0.80, μ=7.05)|\u200b\u00a0r=0.96"], "range": ["#6a9fd1", "#f03a3a"]},
      "legend": {"title": null, "labelExpr": "split(datum.label, '|')", "symbolFillColor": "#6a9fd1", "symbolStrokeColor": "#f03a3a",
        "encode": {"symbols": {"update": {
          "shape": {"signal": "datum.value === 'Altitude of top plume data' ? 'M-1,-0.6H2.333V0.6H-1Z' : 'M-1,0H2.333'"},
          "fill": {"signal": "datum.value === 'Altitude of top plume data' ? '#6a9fd1' : 'transparent'"},
          "stroke": {"signal": "datum.value === 'Altitude of top plume data' ? '#6a9fd1' : '#f03a3a'"},
          "strokeWidth": {"signal": "datum.value === 'Altitude of top plume data' ? 0 : 1.2"}}}}}}
   }}
 ]},
{"width": 356, "height": 212, "title": {"text": "d) Canada", "dx": -64},
 "layer": [
  {"data": {"name": "hist"}, "transform": [{"filter": "datum.p === 'd'"}], "mark": {"type": "bar", "clip": true, "color": "#2a6aa3", "stroke": "#2a6aa3", "strokeWidth": 0.4},
   "encoding": {
    "x": {"field": "a", "type": "quantitative", "title": "Top of the Plume Altitude [m ASL]", "scale": {"domain": [0, 12000], "nice": false, "zero": false, "padding": 0}, "axis": {"format": "d"}},
    "x2": {"field": "b"},
    "y": {"field": "v", "type": "quantitative", "title": "PDF", "scale": {"domain": [0, 0.0008], "nice": false, "padding": 0}, "axis": {"format": ".4f"}},
    "y2": {"datum": 0}
   }},
  {"data": {"name": "fit"}, "transform": [{"filter": "datum.p === 'd'"}], "mark": {"type": "line", "strokeWidth": 1.2, "strokeDash": [3.6, 1.8], "interpolate": "monotone", "clip": true},
   "encoding": {
    "x": {"field": "x", "type": "quantitative", "title": "Top of the Plume Altitude [m ASL]"},
    "y": {"field": "y", "type": "quantitative", "title": "PDF"},
    "color": {"datum": "Fitted log-normal PDF|(σ=0.60, μ=7.65)|\u200b\u00a0r=0.93", "type": "nominal",
      "scale": {"domain": ["Altitude of top plume data", "Fitted log-normal PDF|(σ=0.60, μ=7.65)|\u200b\u00a0r=0.93"], "range": ["#2a6aa3", "#f03a3a"]},
      "legend": {"title": null, "labelExpr": "split(datum.label, '|')", "symbolFillColor": "#2a6aa3", "symbolStrokeColor": "#f03a3a",
        "encode": {"symbols": {"update": {
          "shape": {"signal": "datum.value === 'Altitude of top plume data' ? 'M-1,-0.6H2.333V0.6H-1Z' : 'M-1,0H2.333'"},
          "fill": {"signal": "datum.value === 'Altitude of top plume data' ? '#2a6aa3' : 'transparent'"},
          "stroke": {"signal": "datum.value === 'Altitude of top plume data' ? '#2a6aa3' : '#f03a3a'"},
          "strokeWidth": {"signal": "datum.value === 'Altitude of top plume data' ? 0 : 1.2"}}}}}}
   }}
 ]},
{"width": 356, "height": 212, "title": {"text": "e) USA", "dx": -51},
 "layer": [
  {"data": {"name": "hist"}, "transform": [{"filter": "datum.p === 'e'"}], "mark": {"type": "bar", "clip": true, "color": "#f38c2e", "stroke": "#f38c2e", "strokeWidth": 0.4},
   "encoding": {
    "x": {"field": "a", "type": "quantitative", "title": "Top of the Plume Altitude [m ASL]", "scale": {"domain": [0, 12000], "nice": false, "zero": false, "padding": 0}, "axis": {"format": "d"}},
    "x2": {"field": "b"},
    "y": {"field": "v", "type": "quantitative", "title": "PDF", "scale": {"domain": [0, 0.0008], "nice": false, "padding": 0}, "axis": {"format": ".4f"}},
    "y2": {"datum": 0}
   }},
  {"data": {"name": "fit"}, "transform": [{"filter": "datum.p === 'e'"}], "mark": {"type": "line", "strokeWidth": 1.2, "strokeDash": [3.6, 1.8], "interpolate": "monotone", "clip": true},
   "encoding": {
    "x": {"field": "x", "type": "quantitative", "title": "Top of the Plume Altitude [m ASL]"},
    "y": {"field": "y", "type": "quantitative", "title": "PDF"},
    "color": {"datum": "Fitted log-normal PDF|(σ=0.61, μ=7.52)|\u200b\u00a0r=0.93", "type": "nominal",
      "scale": {"domain": ["Altitude of top plume data", "Fitted log-normal PDF|(σ=0.61, μ=7.52)|\u200b\u00a0r=0.93"], "range": ["#f38c2e", "#f03a3a"]},
      "legend": {"title": null, "labelExpr": "split(datum.label, '|')", "symbolFillColor": "#f38c2e", "symbolStrokeColor": "#f03a3a",
        "encode": {"symbols": {"update": {
          "shape": {"signal": "datum.value === 'Altitude of top plume data' ? 'M-1,-0.6H2.333V0.6H-1Z' : 'M-1,0H2.333'"},
          "fill": {"signal": "datum.value === 'Altitude of top plume data' ? '#f38c2e' : 'transparent'"},
          "stroke": {"signal": "datum.value === 'Altitude of top plume data' ? '#f38c2e' : '#f03a3a'"},
          "strokeWidth": {"signal": "datum.value === 'Altitude of top plume data' ? 0 : 1.2"}}}}}}
   }}
 ]},
{"width": 356, "height": 212, "title": {"text": "f) Alaska", "dx": -64},
 "layer": [
  {"data": {"name": "hist"}, "transform": [{"filter": "datum.p === 'f'"}], "mark": {"type": "bar", "clip": true, "color": "#bf5a1d", "stroke": "#bf5a1d", "strokeWidth": 0.4},
   "encoding": {
    "x": {"field": "a", "type": "quantitative", "title": "Top of the Plume Altitude [m ASL]", "scale": {"domain": [0, 12000], "nice": false, "zero": false, "padding": 0}, "axis": {"format": "d"}},
    "x2": {"field": "b"},
    "y": {"field": "v", "type": "quantitative", "title": "PDF", "scale": {"domain": [0, 0.0008], "nice": false, "padding": 0}, "axis": {"format": ".4f"}},
    "y2": {"datum": 0}
   }},
  {"data": {"name": "fit"}, "transform": [{"filter": "datum.p === 'f'"}], "mark": {"type": "line", "strokeWidth": 1.2, "strokeDash": [3.6, 1.8], "interpolate": "monotone", "clip": true},
   "encoding": {
    "x": {"field": "x", "type": "quantitative", "title": "Top of the Plume Altitude [m ASL]"},
    "y": {"field": "y", "type": "quantitative", "title": "PDF"},
    "color": {"datum": "Fitted log-normal PDF|(σ=0.60, μ=7.62)|\u200b\u00a0r=0.93", "type": "nominal",
      "scale": {"domain": ["Altitude of top plume data", "Fitted log-normal PDF|(σ=0.60, μ=7.62)|\u200b\u00a0r=0.93"], "range": ["#bf5a1d", "#f03a3a"]},
      "legend": {"title": null, "labelExpr": "split(datum.label, '|')", "symbolFillColor": "#bf5a1d", "symbolStrokeColor": "#f03a3a",
        "encode": {"symbols": {"update": {
          "shape": {"signal": "datum.value === 'Altitude of top plume data' ? 'M-1,-0.6H2.333V0.6H-1Z' : 'M-1,0H2.333'"},
          "fill": {"signal": "datum.value === 'Altitude of top plume data' ? '#bf5a1d' : 'transparent'"},
          "stroke": {"signal": "datum.value === 'Altitude of top plume data' ? '#bf5a1d' : '#f03a3a'"},
          "strokeWidth": {"signal": "datum.value === 'Altitude of top plume data' ? 0 : 1.2"}}}}}}
   }}
 ]}
],
"config": {
 "font": "DejaVu Sans",
 "view": {"stroke": "#9a9a9a", "strokeWidth": 1},
 "axis": {"labelFont": "DejaVu Sans", "labelFontSize": 13.3, "labelColor": "#000000", "titleFont": "DejaVu Sans", "titleFontSize": 13.3, "titleFontWeight": "normal", "titleColor": "#000000", "gridColor": "#d9d9d9", "gridWidth": 1, "domain": false, "tickColor": "#555555", "tickSize": 3.5, "labelPadding": 1.5, "labelFlush": false, "labelOverlap": false},
 "axisX": {"titlePadding": 2, "tickCount": 6},
 "axisY": {"titlePadding": 5, "tickCount": 4},
 "title": {"font": "Roboto", "fontSize": 27.5, "fontWeight": "normal", "anchor": "start", "frame": "group", "offset": 21.5, "baseline": "alphabetic", "color": "#000000"},
 "legend": {"orient": "top-right", "offset": 6, "padding": 4, "rowPadding": 4, "fillColor": "rgba(255,255,255,0.8)", "strokeColor": "#e0e0e0", "cornerRadius": 3, "labelFont": "DejaVu Sans", "labelFontSize": 12.7, "labelColor": "#000000", "labelLimit": 400, "labelOffset": 21, "symbolSize": 225, "symbolDash": [3.6, 1.8], "symbolStrokeWidth": 1.2, "symbolOpacity": 1}
}
}
